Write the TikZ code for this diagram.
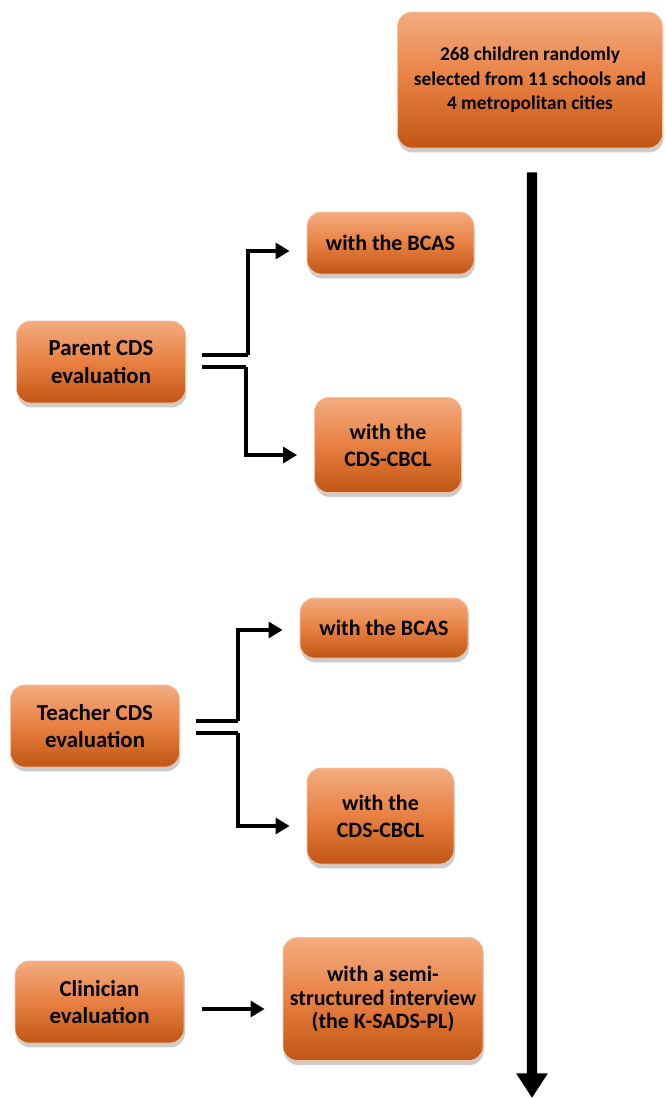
\documentclass[tikz,border=0pt]{standalone}
\usepackage{fontspec}
\setmainfont{Carlito}
\usepackage{xcolor}
\definecolor{boxtop}{RGB}{243,172,128}
\definecolor{boxmid}{RGB}{232,128,66}
\definecolor{boxbot}{RGB}{192,86,20}
\usetikzlibrary{arrows.meta, positioning, shadows}

\begin{document}
\begin{tikzpicture}[
    every node/.style={font=\bfseries, align=center},
    box/.style={
        rectangle, rounded corners=8pt,
        top color=boxtop, bottom color=boxbot, middle color=boxmid,
        draw=boxtop!70!white, line width=0.4pt,
        drop shadow={shadow xshift=0.5pt, shadow yshift=-2.5pt, opacity=0.4},
        text=black, inner sep=2pt
    },
    small/.style={box, minimum width=3.38cm, minimum height=1.64cm, font=\bfseries\fontsize{13}{15.5}\selectfont},
    tool/.style={box, font=\bfseries\fontsize{12.5}{15.5}\selectfont},
    link/.style={line width=2.3pt, -{Triangle[length=8pt, width=9pt]}},
    tie/.style={line width=2.3pt},
    trunk/.style={line width=5.7pt, -{Triangle[length=14pt, width=17pt]}},
]

\useasboundingbox (0,0) rectangle (13.3,-21.96);

% ---- Sample box ----
\node[box, minimum width=5.3cm, minimum height=2.72cm,
      font=\bfseries\fontsize{11}{14}\selectfont] (cohort) at (10.6,-1.6)
      {268 children randomly\\selected from 11 schools and\\4 metropolitan cities};

% ---- Parent ----
\node[small] (parent) at (2.02,-7.24) {Parent CDS\\evaluation};
\node[tool, minimum width=3.34cm, minimum height=1.24cm] (bcasA) at (7.81,-4.86) {with the BCAS};
\node[tool, minimum width=2.94cm, minimum height=1.9cm] (cbclA) at (7.76,-8.9) {with the\\CDS-CBCL};

% ---- Teacher ----
\node[small] (teacher) at (1.9,-14.52) {Teacher CDS\\evaluation};
\node[tool, minimum width=3.36cm, minimum height=1.2cm] (bcasB) at (7.68,-12.56) {with the BCAS};
\node[tool, minimum width=2.94cm, minimum height=1.92cm] (cbclB) at (7.61,-16.32) {with the\\CDS-CBCL};

% ---- Clinician ----
\node[small] (clinic) at (1.99,-20.04) {Clinician\\evaluation};
\node[box, minimum width=4.0cm, minimum height=2.46cm,
      font=\bfseries\fontsize{12.5}{13.5}\selectfont] (kiddie) at (7.66,-19.98)
      {with a semi-\\structured interview\\(the K-SADS-PL)};

% ---- Connectors ----
\draw[tie] ([xshift=0.32cm, yshift=0.14cm]parent.east) -- ++(0.92,0) coordinate (pA);
\draw[link] (pA) |- ([xshift=-0.34cm, yshift=-0.16cm]bcasA.west);
\draw[tie] ([xshift=0.32cm, yshift=-0.1cm]parent.east) -- ++(0.88,0) coordinate (pB);
\draw[link] (pB) |- ([xshift=-0.34cm, yshift=-0.2cm]cbclA.west);

\draw[tie] ([xshift=0.32cm, yshift=0.1cm]teacher.east) -- ++(0.84,0) coordinate (tA);
\draw[link] (tA) |- ([xshift=-0.34cm, yshift=-0.04cm]bcasB.west);
\draw[tie] ([xshift=0.32cm, yshift=-0.14cm]teacher.east) -- ++(0.84,0) coordinate (tB);
\draw[link] (tB) |- ([xshift=-0.34cm, yshift=-0.2cm]cbclB.west);

\draw[link] ([xshift=0.36cm]clinic.east |- 0,-20.18) -- ([xshift=-0.36cm]kiddie.west |- 0,-20.18);

% ---- Timeline ----
\coordinate (tip) at (10.64,-21.96);
\draw[trunk] ([xshift=0.04cm, yshift=-0.48cm]cohort.south) -- (tip);

\end{tikzpicture}
\end{document}
